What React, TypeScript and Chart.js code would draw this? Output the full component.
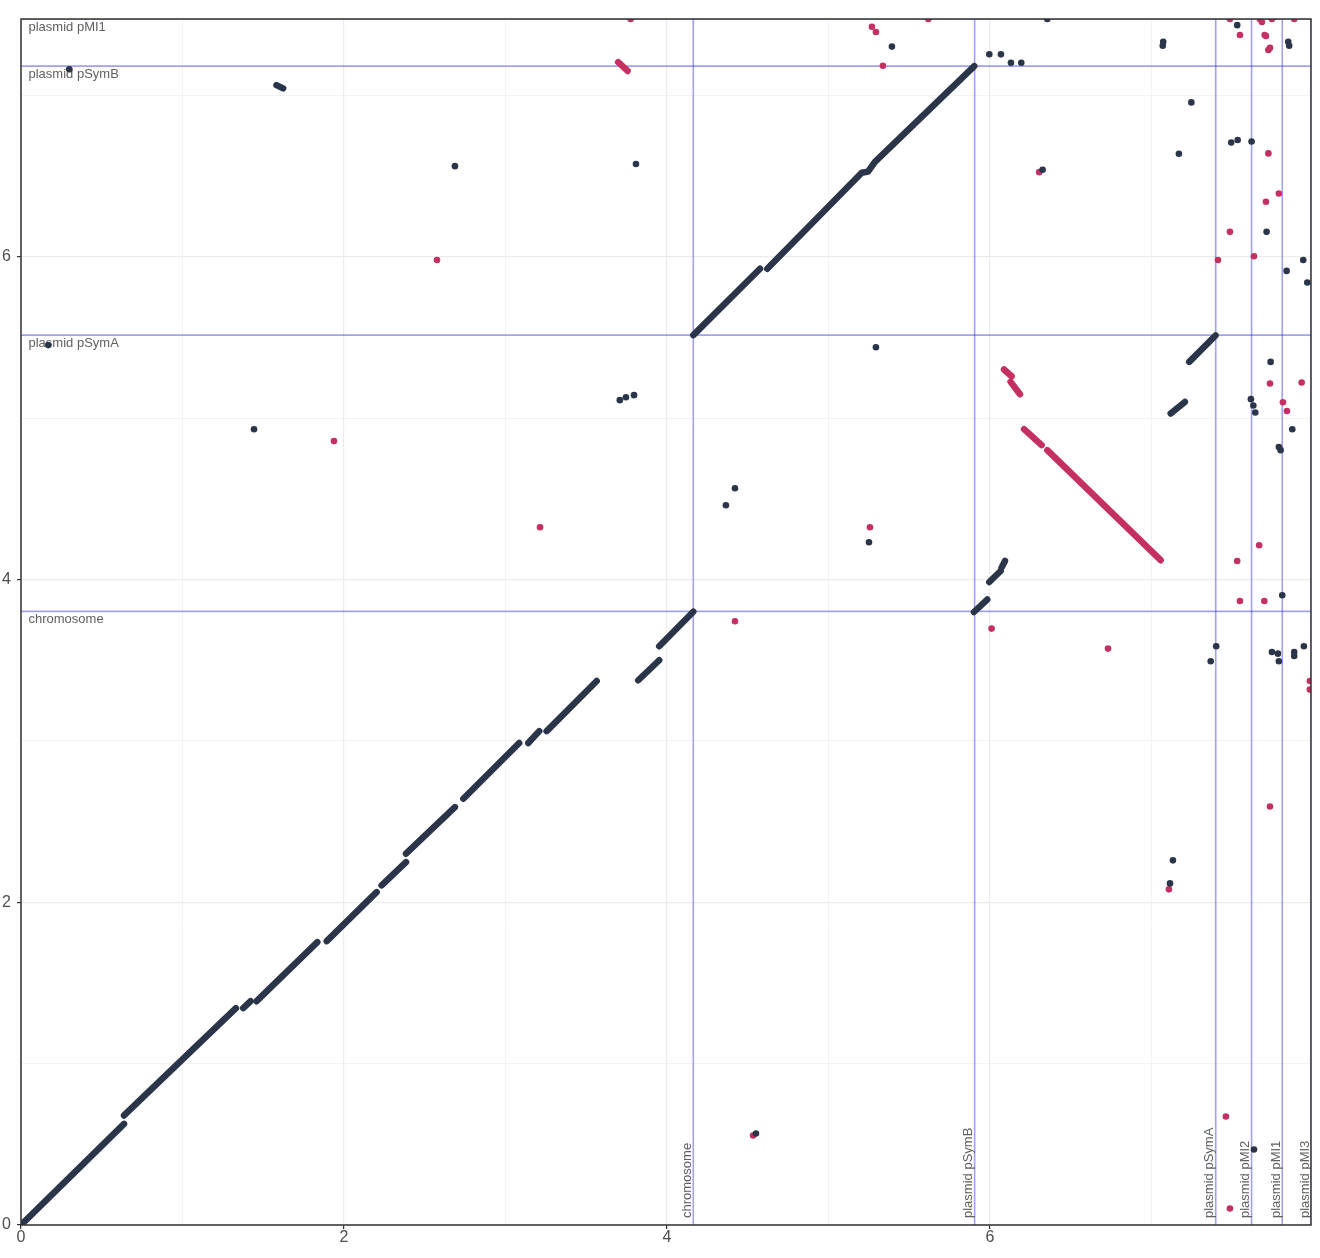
import React, { useEffect, useRef } from 'react';
import { Chart, registerables } from 'chart.js';

Chart.register(...registerables);

// ---- axis extents (Mb-ish units) ----
const xMax = 7.988;
const yMax = 7.474;
const tickValues = [0, 1, 2, 3, 4, 5, 6, 7];

// ---- sequence boundaries ----
const queryNames = ['chromosome', 'plasmid pSymB', 'plasmid pSymA', 'plasmid pMI2', 'plasmid pMI1', 'plasmid pMI3'];
const queryEnds = [4.163, 5.905, 7.398, 7.62, 7.81, 7.988];
const refNames = ['chromosome', 'plasmid pSymA', 'plasmid pSymB', 'plasmid pMI1'];
const refEnds = [3.803, 5.515, 7.182, 7.474];

// ---- forward alignments (navy) as runs of [x, y] ----
const forwardRuns: [number, number][][] = [
  [[0.004, 0.004], [0.638, 0.627]],
  [[0.638, 0.679], [1.331, 1.344]],
  [[1.376, 1.344], [1.422, 1.387]],
  [[1.459, 1.387], [1.835, 1.753]],
  [[1.893, 1.759], [2.202, 2.063]],
  [[2.233, 2.105], [2.384, 2.249]],
  [[2.384, 2.301], [2.687, 2.59]],
  [[2.739, 2.642], [3.085, 2.987]],
  [[3.141, 2.987], [3.209, 3.061]],
  [[3.255, 3.061], [3.565, 3.371]],
  [[3.822, 3.376], [3.952, 3.5]],
  [[3.952, 3.587], [4.163, 3.801]],
  [[4.163, 5.515], [4.576, 5.926]],
  [[4.621, 5.926], [5.206, 6.521], [5.245, 6.528], [5.288, 6.589], [5.903, 7.182]],
  [[5.901, 3.799], [5.983, 3.876]],
  [[5.996, 3.985], [6.066, 4.053]],
  [[6.072, 4.074], [6.093, 4.115]],
  [[7.119, 5.029], [7.207, 5.101]],
  [[7.234, 5.349], [7.397, 5.513]],
  [[1.582, 7.064], [1.623, 7.044]],
];

// ---- reverse alignments (crimson) ----
const reverseRuns: [number, number][][] = [
  [[6.087, 5.302], [6.134, 5.26]],
  [[6.128, 5.225], [6.186, 5.149]],
  [[6.211, 4.932], [6.32, 4.833]],
  [[6.355, 4.802], [7.057, 4.12]],
  [[3.698, 7.206], [3.756, 7.152]],
];

// ---- isolated hits ----
const forwardDots: [number, number][] = [
  [0.299, 7.163], [0.169, 5.453], [1.443, 4.932], [2.687, 6.562], [3.808, 6.575],
  [3.708, 5.112], [3.746, 5.13], [3.796, 5.143], [4.365, 4.461], [4.421, 4.566],
  [4.551, 0.567], [5.294, 5.44], [5.251, 4.231], [5.393, 7.303], [6.355, 7.474],
  [5.996, 7.256], [6.068, 7.255], [6.13, 7.203], [6.194, 7.203], [6.326, 6.54],
  [7.073, 7.333], [7.07, 7.308], [7.247, 6.957], [7.17, 6.639], [7.494, 6.709],
  [7.534, 6.724], [7.62, 6.715], [7.531, 7.436], [7.713, 6.155], [7.94, 5.98],
  [7.837, 5.913], [7.965, 5.841], [7.847, 7.333], [7.853, 7.308], [7.738, 5.349],
  [7.616, 5.118], [7.631, 5.079], [7.643, 5.035], [7.872, 4.932], [7.789, 4.822],
  [7.8, 4.802], [7.81, 3.903], [7.401, 3.587], [7.367, 3.494], [7.746, 3.551],
  [7.783, 3.541], [7.789, 3.494], [7.884, 3.551], [7.884, 3.526], [7.944, 3.587],
  [7.133, 2.26], [7.115, 2.117], [7.635, 0.468],
];

const reverseDots: [number, number][] = [
  [2.576, 5.98], [1.938, 4.858], [3.214, 4.324], [4.421, 3.742], [4.533, 0.555],
  [5.269, 7.426], [5.294, 7.393], [5.337, 7.184], [3.775, 7.474], [5.618, 7.474],
  [5.257, 4.324], [6.01, 3.696], [6.731, 3.572], [6.305, 6.525], [7.108, 2.08],
  [7.486, 7.474], [7.548, 7.375], [7.672, 7.472], [7.684, 7.455], [7.746, 7.474],
  [7.884, 7.474], [7.701, 7.375], [7.709, 7.368], [7.724, 7.282], [7.734, 7.296],
  [7.724, 6.641], [7.789, 6.393], [7.709, 6.341], [7.486, 6.155], [7.635, 6.004],
  [7.412, 5.98], [7.734, 5.215], [7.93, 5.221], [7.814, 5.099], [7.839, 5.045],
  [7.667, 4.213], [7.531, 4.115], [7.548, 3.867], [7.699, 3.867], [7.981, 3.371],
  [7.981, 3.318], [7.461, 0.672], [7.486, 0.102], [7.734, 2.594],
];

const NAVY = '#2b3549';
const CRIMSON = '#c4305f';
const FONT = '"Liberation Sans", Arial, Helvetica, sans-serif';

const toXY = (pts: [number, number][]) => pts.map(([x, y]) => ({ x, y }));

const overlayPlugin = {
  id: 'seqOverlay',
  beforeDatasetsDraw(chart: any) {
    const { ctx, chartArea: a, scales } = chart;
    const xs = scales.x;
    const ys = scales.y;
    ctx.save();
    ctx.beginPath();
    ctx.rect(a.left, a.top, a.right - a.left, a.bottom - a.top);
    ctx.clip();
    ctx.strokeStyle = 'rgba(30,30,225,0.42)';
    ctx.lineWidth = 1.6;
    queryEnds.forEach((v) => {
      const px = xs.getPixelForValue(v);
      ctx.beginPath();
      ctx.moveTo(px, a.top);
      ctx.lineTo(px, a.bottom);
      ctx.stroke();
    });
    refEnds.forEach((v) => {
      const py = ys.getPixelForValue(v);
      ctx.beginPath();
      ctx.moveTo(a.left, py);
      ctx.lineTo(a.right, py);
      ctx.stroke();
    });
    ctx.fillStyle = '#606060';
    ctx.font = `13px ${FONT}`;
    ctx.textAlign = 'left';
    ctx.textBaseline = 'alphabetic';
    refEnds.forEach((v, i) => {
      const py = ys.getPixelForValue(v);
      ctx.fillText(refNames[i], a.left + 7.5, py + 11.5);
    });
    queryEnds.forEach((v, i) => {
      const px = xs.getPixelForValue(v);
      ctx.save();
      ctx.translate(px - 2.5, a.bottom - 7);
      ctx.rotate(-Math.PI / 2);
      ctx.fillText(queryNames[i], 0, 0);
      ctx.restore();
    });
    ctx.restore();
  },
  afterDraw(chart: any) {
    const { ctx, chartArea: a } = chart;
    ctx.save();
    ctx.strokeStyle = '#333333';
    ctx.lineWidth = 1.5;
    ctx.strokeRect(a.left, a.top, a.right - a.left, a.bottom - a.top);
    ctx.restore();
  },
};

export default function App() {
  const ref = useRef<HTMLCanvasElement | null>(null);

  useEffect(() => {
    if (!ref.current) return;
    const datasets: any[] = [];
    forwardRuns.forEach((run) =>
      datasets.push({
        type: 'line',
        data: toXY(run),
        borderColor: NAVY,
        borderWidth: 6.5,
        borderCapStyle: 'round',
        borderJoinStyle: 'round',
        pointRadius: 0,
        fill: false,
        tension: 0,
        clip: 0,
      })
    );
    datasets.push({
      type: 'scatter',
      data: toXY(forwardDots),
      backgroundColor: NAVY,
      borderWidth: 0,
      pointRadius: 3.3,
      clip: 0,
    });
    reverseRuns.forEach((run) =>
      datasets.push({
        type: 'line',
        data: toXY(run),
        borderColor: CRIMSON,
        borderWidth: 6.5,
        borderCapStyle: 'round',
        borderJoinStyle: 'round',
        pointRadius: 0,
        fill: false,
        tension: 0,
        clip: 0,
      })
    );
    datasets.push({
      type: 'scatter',
      data: toXY(reverseDots),
      backgroundColor: CRIMSON,
      borderWidth: 0,
      pointRadius: 3.3,
      clip: 0,
    });

    const isMajor = (c: any) => c.tick && Math.round(c.tick.value) % 2 === 0;
    const gridCfg = {
      color: '#ebebeb',
      lineWidth: (c: any) => (isMajor(c) ? 1.2 : 0.6),
      tickLength: 4,
      tickWidth: 1.2,
      tickColor: (c: any) => (isMajor(c) ? '#333333' : 'rgba(0,0,0,0)'),
    };
    const tickCb = (v: any) => (Math.round(Number(v)) % 2 === 0 ? String(v) : '');

    const chart = new Chart(ref.current, {
      type: 'scatter',
      data: { datasets },
      plugins: [overlayPlugin],
      options: {
        animation: false,
        responsive: false,
        maintainAspectRatio: false,
        devicePixelRatio: 1,
        layout: { padding: { left: 0, top: 19, right: 9, bottom: 0 } },
        plugins: { legend: { display: false }, tooltip: { enabled: false } },
        scales: {
          x: {
            type: 'linear',
            min: 0,
            max: xMax,
            afterFit: (s: any) => {
              s.height = 33;
            },
            afterBuildTicks: (s: any) => {
              s.ticks = tickValues.map((value) => ({ value }));
            },
            ticks: {
              autoSkip: false,
              maxRotation: 0,
              includeBounds: false,
              padding: -1,
              color: '#4d4d4d',
              font: { size: 16, family: FONT },
              callback: tickCb,
            },
            grid: gridCfg,
            border: { display: false },
          },
          y: {
            type: 'linear',
            min: 0,
            max: yMax,
            afterFit: (s: any) => {
              s.width = 21;
            },
            afterBuildTicks: (s: any) => {
              s.ticks = tickValues.map((value) => ({ value }));
            },
            ticks: {
              autoSkip: false,
              includeBounds: false,
              padding: 6,
              color: '#4d4d4d',
              font: { size: 16, family: FONT },
              callback: tickCb,
            },
            grid: gridCfg,
            border: { display: false },
          },
        },
      },
    } as any);
    return () => chart.destroy();
  }, []);

  return (
    <div style={{ position: 'absolute', left: 0, top: 0, width: 1320, height: 1258, background: '#fff' }}>
      <canvas ref={ref} width={1320} height={1258} style={{ display: 'block' }} />
    </div>
  );
}
